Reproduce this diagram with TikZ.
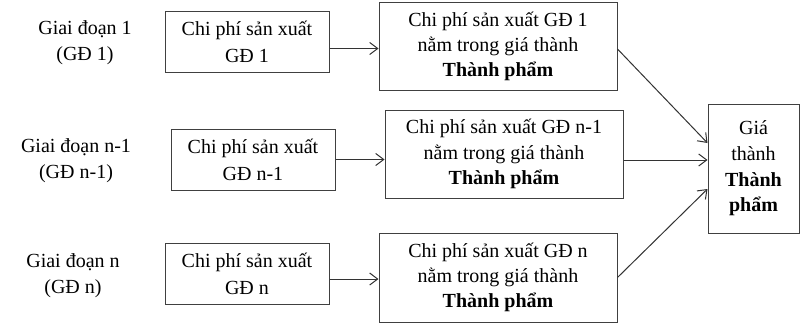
\documentclass[tikz,border=0pt]{standalone}
\usepackage{fontspec}
\setmainfont{Liberation Serif}
\usetikzlibrary{positioning, arrows.meta}

\begin{document}
\begin{tikzpicture}[
    x=0.5pt, y=-0.5pt,
    stage/.style={align=center, font=\fontsize{10}{13}\selectfont},
    costbox/.style={rectangle, draw=black!75, line width=0.5pt, minimum width=82pt, minimum height=30.5pt, align=center, font=\fontsize{10}{13.5}\selectfont},
    partbox/.style={rectangle, draw=black!75, line width=0.5pt, minimum width=119pt, minimum height=44pt, align=center, font=\fontsize{10}{12.6}\selectfont},
    pricebox/.style={rectangle, draw=black!75, line width=0.5pt, minimum width=45.5pt, minimum height=64.5pt, align=center, font=\fontsize{10}{12.8}\selectfont},
    arrow/.style={-{Straight Barb[length=4pt,width=6pt]}, line width=0.5pt, color=black!80}
]
\useasboundingbox (0,0) rectangle (811,332);

% Stage labels
\node[stage] (stage1) at (85,43) {Giai đoạn 1\\(GĐ 1)};
\node[stage] (stage2) at (76,161) {Giai đoạn n-1\\(GĐ n-1)};
\node[stage] (stage3) at (73,276) {Giai đoạn n\\(GĐ n)};

% Cost of each stage
\node[costbox] (cost1) at (247,41.5) {Chi phí sản xuất\\GĐ 1};
\node[costbox] (cost2) at (253,159.5) {Chi phí sản xuất\\GĐ n-1};
\node[costbox] (cost3) at (247,274) {Chi phí sản xuất\\GĐ n};

% Cost inside the finished product
\node[partbox, right=24.5pt of cost1, yshift=-2.5pt] (part1) {Chi phí sản xuất GĐ 1\\nằm trong giá thành\\\textbf{Thành phẩm}};
\node[partbox, right=24.5pt of cost2, yshift=2.75pt] (part2) {Chi phí sản xuất GĐ n-1\\nằm trong giá thành\\\textbf{Thành phẩm}};
\node[partbox, right=24.5pt of cost3, yshift=-1.75pt, minimum height=44.5pt] (part3) {Chi phí sản xuất GĐ n\\nằm trong giá thành\\\textbf{Thành phẩm}};

\node[pricebox] (price) at (753.5,168.5) {Giá\\thành\\\textbf{Thành}\\\textbf{phẩm}};

% Arrows
\draw[arrow] ([yshift=-3.5pt]cost1.east) -- ([yshift=-3.5pt]cost1.east -| part1.west);
\draw[arrow] (cost2.east) -- (cost2.east -| part2.west);
\draw[arrow] ([yshift=-2.5pt]cost3.east) -- ([yshift=-2.5pt]cost3.east -| part3.west);

\draw[arrow] ([yshift=-1.25pt]part1.east) -- ([yshift=12.75pt]price.west);
\draw[arrow] ([yshift=-3pt]part2.east) -- ([yshift=-3pt]part2.east -| price.west);
\draw[arrow] (part3.east) -- ([yshift=-10.25pt]price.west);

\end{tikzpicture}
\end{document}
